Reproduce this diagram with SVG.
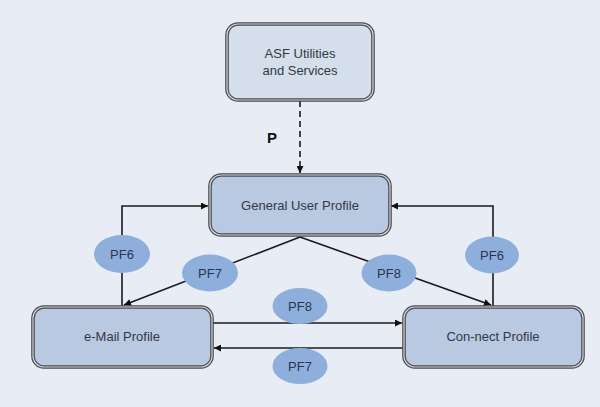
<svg xmlns="http://www.w3.org/2000/svg" width="600" height="407" viewBox="0 0 600 407">
<defs>
<marker id="ah" viewBox="0 0 10 10" refX="10" refY="5" markerWidth="9" markerHeight="7" markerUnits="userSpaceOnUse" orient="auto">
<path d="M0,0 L10,5 L0,10 Z" fill="#111"/>
</marker>
</defs>
<style>
.box{stroke:#4a4a4e;stroke-width:3.6}
.boxin{fill:none;stroke:#d0d4dc;stroke-width:1.2}
.lt{fill:#d4dfeb}
.dk{fill:#b9c9e1}
.t{font-family:"Liberation Sans",Arial,sans-serif;font-size:13px;fill:#333845;text-anchor:middle}
.c{fill:none;stroke:#1a1a1a;stroke-width:1.6}
.e{fill:#8eafdc}
.el{font-family:"Liberation Sans",Arial,sans-serif;font-size:13px;fill:#2c3550;text-anchor:middle}
</style>
<rect width="600" height="407" fill="#e8edf5"/>
<g id="connectors">
<line class="c" x1="300" y1="101" x2="300" y2="173" stroke-dasharray="6,4" marker-end="url(#ah)"/>
<text x="272" y="143" font-family="Liberation Sans,Arial,sans-serif" font-size="15" font-weight="bold" fill="#111" text-anchor="middle">P</text>
<polyline class="c" points="122,306 122,206 208,206" marker-end="url(#ah)"/>
<polyline class="c" points="493,306 493,206 391,206" marker-end="url(#ah)"/>
<line class="c" x1="300" y1="237" x2="124" y2="305" marker-end="url(#ah)"/>
<line class="c" x1="300" y1="237" x2="491" y2="305" marker-end="url(#ah)"/>
<line class="c" x1="213" y1="323" x2="402" y2="323" marker-end="url(#ah)"/>
<line class="c" x1="403" y1="348" x2="214" y2="348" marker-end="url(#ah)"/>
<g id="lbl-pf6-left"><ellipse class="e" cx="122" cy="254" rx="28" ry="19"/><text class="el" x="122" y="258.5">PF6</text></g>
<g id="lbl-pf6-right"><ellipse class="e" cx="492" cy="255" rx="27" ry="18.5"/><text class="el" x="492" y="259.5">PF6</text></g>
<g id="lbl-pf7-diag"><ellipse class="e" cx="210" cy="273" rx="28" ry="18.5"/><text class="el" x="210" y="277.5">PF7</text></g>
<g id="lbl-pf8-diag"><ellipse class="e" cx="389" cy="273" rx="27.5" ry="18.5"/><text class="el" x="389" y="277.5">PF8</text></g>
<g id="lbl-pf8-h"><ellipse class="e" cx="300" cy="306" rx="27.5" ry="18"/><text class="el" x="300" y="310.5">PF8</text></g>
<g id="lbl-pf7-h"><ellipse class="e" cx="300" cy="366" rx="27.5" ry="18"/><text class="el" x="300" y="370.5">PF7</text></g>
</g>
<g id="asf">
<rect class="box lt" x="227" y="24" width="146" height="76" rx="11"/>
<rect class="boxin" x="227" y="24" width="146" height="76" rx="11"/>
<text class="t" x="300" y="58">ASF Utilities</text>
<text class="t" x="300" y="75">and Services</text>
</g>
<g id="gup">
<rect class="box dk" x="210" y="175" width="180" height="60" rx="11"/>
<rect class="boxin" x="210" y="175" width="180" height="60" rx="11"/>
<text class="t" x="300" y="209.5">General User Profile</text>
</g>
<g id="email">
<rect class="box dk" x="33" y="307" width="179" height="60" rx="11"/>
<rect class="boxin" x="33" y="307" width="179" height="60" rx="11"/>
<text class="t" x="122" y="341">e-Mail Profile</text>
</g>
<g id="connect">
<rect class="box dk" x="404" y="307" width="179" height="60" rx="11"/>
<rect class="boxin" x="404" y="307" width="179" height="60" rx="11"/>
<text class="t" x="493" y="341">Con-nect Profile</text>
</g>
</svg>
